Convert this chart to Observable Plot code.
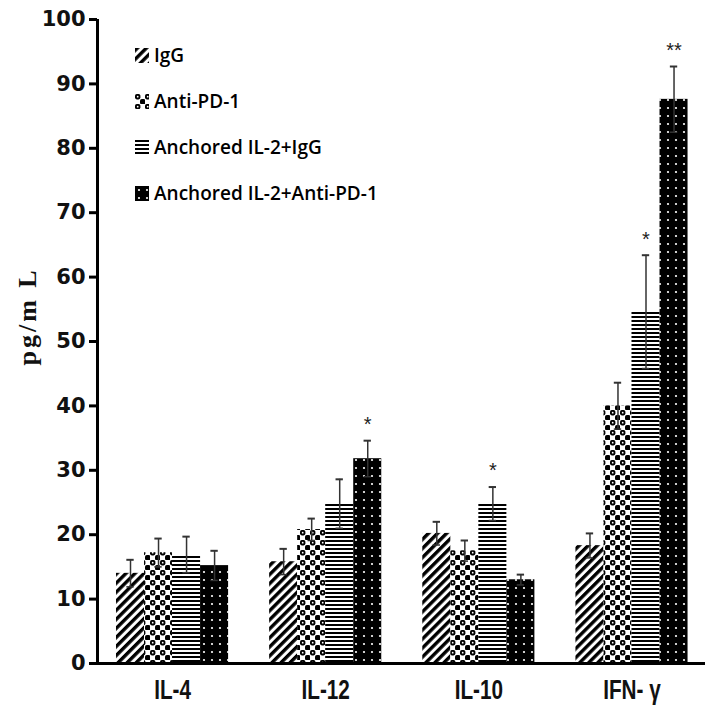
<!DOCTYPE html>
<html>
<head>
<meta charset="utf-8">
<script src="https://cdn.jsdelivr.net/npm/d3@7"></script>
<script src="https://cdn.jsdelivr.net/npm/@observablehq/plot@0.6"></script>
<style>
  html, body { margin: 0; padding: 0; background: #fff; }
  #wrap { position: relative; width: 709px; height: 707px; }
  #chart svg [aria-label^="y-axis"] text { font: bold 21px "DejaVu Sans", sans-serif; fill: #111; }
  #chart svg [aria-label^="y-axis"] path, #chart svg [aria-label^="y-axis"] line { stroke: #000; stroke-width: 3px; }
  #chart svg [aria-label^="x-axis"] text { font: bold 28px "Liberation Sans", Arial, sans-serif; fill: #111; }
  #legend { position: absolute; left: 135px; top: 43px; font: 600 19px "Open Sans", sans-serif; color: #000; }
  #legend .item { display: flex; align-items: center; height: 24px; margin-bottom: 22px; }
  #legend svg { margin-right: 5px; }
</style>
</head>
<body>
<div id="wrap">
  <div id="chart"></div>
  <div id="legend"></div>
</div>
<script>
// ---- data ----
const categories = ["IL-4", "IL-12", "IL-10", "IFN- γ"];
const series = ["IgG", "Anti-PD-1", "Anchored IL-2+IgG", "Anchored IL-2+Anti-PD-1"];
const meanIgG = [14.0, 15.8, 20.2, 18.3];
const meanAntiPD1 = [17.2, 20.8, 17.5, 40.0];
const meanAnchoredIgG = [16.9, 24.8, 24.8, 54.6];
const meanAnchoredAntiPD1 = [15.2, 31.8, 13.0, 87.6];
const errIgG = [2.1, 2.0, 1.8, 1.9];
const errAntiPD1 = [2.2, 1.7, 1.6, 3.6];
const errAnchoredIgG = [2.8, 3.8, 2.6, 8.8];
const errAnchoredAntiPD1 = [2.3, 2.8, 0.8, 5.1];
const sigIgG = ["", "", "", ""];
const sigAntiPD1 = ["", "", "", ""];
const sigAnchoredIgG = ["", "", "*", "*"];
const sigAnchoredAntiPD1 = ["", "*", "", "**"];
const yTicks = [0, 10, 20, 30, 40, 50, 60, 70, 80, 90, 100];
const yLabel = "pg/m L";

// ---- build table ----
const means = [meanIgG, meanAntiPD1, meanAnchoredIgG, meanAnchoredAntiPD1];
const errs = [errIgG, errAntiPD1, errAnchoredIgG, errAnchoredAntiPD1];
const sigs = [sigIgG, sigAntiPD1, sigAnchoredIgG, sigAnchoredAntiPD1];
const patternIds = ["url(#pat-igg)", "url(#pat-antipd1)", "url(#pat-hlines)", "url(#pat-dots)"];
const groupWidth = 0.732;
const barW = groupWidth / series.length;
const rows = [];
categories.forEach((c, ci) => {
  series.forEach((s, si) => {
    const x1 = ci - groupWidth / 2 + si * barW;
    rows.push({
      category: c, series: s, x1, x2: x1 + barW, xc: x1 + barW / 2,
      value: means[si][ci], err: errs[si][ci], sig: sigs[si][ci], fill: patternIds[si]
    });
  });
});
const xDomain = [-0.49, 3.48];
const capHalf = 0.024;

const plot = Plot.plot({
  width: 709,
  height: 707,
  marginLeft: 97,
  marginRight: 4,
  marginTop: 19,
  marginBottom: 44,
  style: { background: "white", color: "#000" },
  x: {
    type: "linear", domain: xDomain, ticks: categories.map((c, i) => i),
    tickFormat: i => categories[i], tickSize: 0, tickPadding: 16, label: null
  },
  y: { domain: [0, 100], ticks: yTicks, tickSize: 8, tickPadding: 4, label: null },
  color: { type: "identity" },
  marks: [
    Plot.rectY(rows, { x1: "x1", x2: "x2", y1: 0, y2: "value", fill: "fill" }),
    Plot.ruleX(rows, { x: "xc", y1: d => d.value - d.err, y2: d => d.value + d.err, stroke: "#333", strokeWidth: 1.5 }),
    Plot.ruleY(rows, { y: d => d.value + d.err, x1: d => d.xc - capHalf, x2: d => d.xc + capHalf, stroke: "#333", strokeWidth: 2 }),
    Plot.ruleY(rows, { y: d => d.value - d.err, x1: d => d.xc - capHalf, x2: d => d.xc + capHalf, stroke: "#333", strokeWidth: 1.5 }),
    Plot.text(rows.filter(d => d.sig), { x: "xc", y: d => d.value + d.err, text: "sig", dy: -16, fontSize: 20, fontFamily: "Liberation Sans", fill: "#222" }),
    Plot.ruleY([0], { stroke: "#000", strokeWidth: 3 }),
    Plot.ruleX([xDomain[0]], { y1: 0, y2: 100, stroke: "#000", strokeWidth: 3 }),
    Plot.text([yLabel], { frameAnchor: "left", rotate: -90, dx: -70, dy: 24, text: d => d, fontSize: 26, fontWeight: "bold", fontFamily: "Liberation Serif", fill: "#111" })
  ]
});

d3.select(plot).insert("defs", ":first-child").html(`
  <pattern id="pat-igg" patternUnits="userSpaceOnUse" width="6.4" height="6.4" patternTransform="rotate(45)">
    <rect width="6.4" height="6.4" fill="#fff"/><rect width="3.4" height="6.4" fill="#000"/>
  </pattern>
  <pattern id="pat-antipd1" patternUnits="userSpaceOnUse" width="10" height="10">
    <rect width="10" height="10" fill="#fff"/>
    <rect x="0" y="0" width="5.4" height="5.4" rx="1.8" fill="#000"/>
    <rect x="5" y="5" width="5.4" height="5.4" rx="1.8" fill="#000"/>
    <circle cx="2.7" cy="2.7" r="0.9" fill="#fff"/>
  </pattern>
  <pattern id="pat-hlines" patternUnits="userSpaceOnUse" width="4" height="4">
    <rect width="4" height="4" fill="#fff"/><rect width="4" height="2" fill="#000"/>
  </pattern>
  <pattern id="pat-dots" patternUnits="userSpaceOnUse" width="8" height="8">
    <rect width="8" height="8" fill="#000"/><circle cx="4" cy="4" r="1.1" fill="#fff"/>
  </pattern>`);

// y-axis label: wider letter spacing as in the reference
d3.select(plot).selectAll("text").filter(function () { return this.textContent === yLabel; })
  .style("letter-spacing", "3px");

document.getElementById("chart").appendChild(plot);

// narrow the category labels (the reference uses a condensed bold face)
d3.select(plot).selectAll("text").filter(function () { return categories.includes(this.textContent); })
  .each(function () {
    const w = this.getComputedTextLength();
    this.setAttribute("textLength", (w * 0.74).toFixed(1));
    this.setAttribute("lengthAdjust", "spacingAndGlyphs");
  });

// ---- legend ----
const legend = d3.select("#legend");
series.forEach((s, i) => {
  const item = legend.append("div").attr("class", "item");
  item.append("svg").attr("width", 14).attr("height", 15)
    .append("rect").attr("width", 14).attr("height", 15).attr("fill", patternIds[i]);
  item.append("span").text(s);
});
</script>
</body>
</html>
